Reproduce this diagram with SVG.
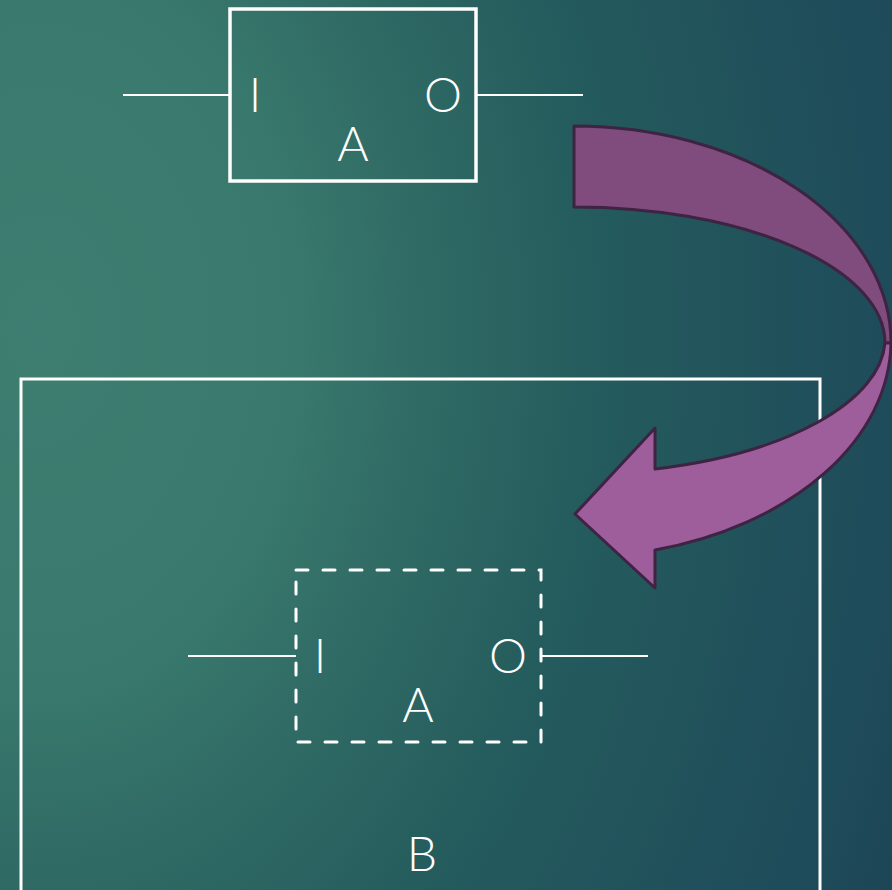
<svg xmlns="http://www.w3.org/2000/svg" width="892" height="890" viewBox="0 0 892 890">
  <defs>
    <radialGradient id="bg" gradientUnits="userSpaceOnUse" cx="40" cy="330" r="1000" gradientTransform="translate(40,330) scale(1,1.4) translate(-40,-330)">
      <stop offset="0" stop-color="#3d7e71"/>
      <stop offset="0.24" stop-color="#3a7a6e"/>
      <stop offset="0.39" stop-color="#2f6a64"/>
      <stop offset="0.56" stop-color="#245b5d"/>
      <stop offset="0.88" stop-color="#1e4a5a"/>
      <stop offset="1" stop-color="#1b4050"/>
    </radialGradient>
    <style>
      .box { fill: none; stroke: #ffffff; stroke-width: 3.5; }
      .dash { fill: none; stroke: #ffffff; stroke-width: 3; stroke-dasharray: 12 15; stroke-linecap: round; }
      .wire { stroke: #ffffff; stroke-width: 2; }
      .lbl { fill: #ffffff; font-family: Lato, "Liberation Sans", sans-serif; font-weight: 300; font-size: 48px; text-anchor: middle; }
      .arrow { stroke: #3e2342; stroke-width: 3; stroke-linejoin: round; }
    </style>
  </defs>
  <rect x="0" y="0" width="892" height="890" fill="url(#bg)"/>

  <g id="nodeB">
    <rect class="box" x="21" y="379" width="799" height="540" style="stroke-width:3"/>
    <text class="lbl" x="422" y="871">B</text>
  </g>

  <g id="nodeA-top">
    <rect class="box" x="230" y="9" width="246" height="172"/>
    <text class="lbl" x="255" y="112">I</text>
    <text class="lbl" x="443" y="112">O</text>
    <text class="lbl" x="353" y="161">A</text>
  </g>

  <g id="nodeA-inner">
    <rect class="dash" x="296" y="570" width="245" height="172"/>
    <text class="lbl" x="320" y="673">I</text>
    <text class="lbl" x="508" y="673">O</text>
    <text class="lbl" x="418" y="722">A</text>
  </g>

  <g id="connectors">
    <line class="wire" x1="123" y1="95" x2="230" y2="95"/>
    <line class="wire" x1="476" y1="95" x2="583" y2="95"/>
    <line class="wire" x1="188" y1="656" x2="296" y2="656"/>
    <line class="wire" x1="541" y1="656" x2="648" y2="656"/>
    <g id="curved-arrow">
      <path class="arrow" fill="#7f4c7d" d="M574,126 A317,217 0 0,1 891,343 L885,343 A311,136 0 0,0 574,207 Z"/>
      <path class="arrow" fill="#9d5e9b" d="M891,343 A317,217 0 0,1 655,550 L655,588 L575,514 L655,428 L655,469 A311,136 0 0,0 885,343 Z"/>
    </g>
  </g>
</svg>
